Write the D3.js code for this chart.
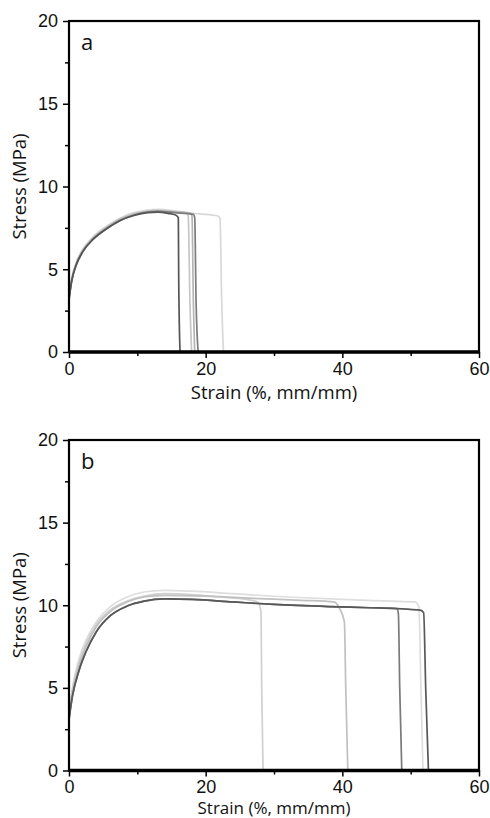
<!DOCTYPE html>
<html>
<head>
<meta charset="utf-8">
<script src="https://cdn.jsdelivr.net/npm/d3@7"></script>
<style>
  body { margin: 0; background: #fff; }
  svg { display: block; font-family: "Open Sans", sans-serif; }
  .tick text { font-size: 18px; fill: #111; }
  .tick line { stroke: #000; stroke-width: 1.5; }
</style>
</head>
<body>
<div id="chart"></div>
<script>
var strainTicks = [0, 20, 40, 60],
    strainMinor = [10, 30, 50],
    stressTicks = [0, 5, 10, 15, 20],
    stressMinor = [2.5, 7.5, 12.5, 17.5];

// panel a specimens, [strain %, stress MPa]
var a1 = [[0,3.2],[0.4,4.3],[1,5.2],[2,6.05],[3.5,6.8],[5.5,7.45],[7.5,7.95],[9.5,8.25],[11.5,8.42],[13,8.45],[14.5,8.38],[15.6,8.28],[16.0,8.12],[16.05,4.7],[16.25,0]];
var a2 = [[0,3.3],[0.4,4.4],[1,5.3],[2,6.15],[3.5,6.9],[5.5,7.55],[7.5,8.05],[9.5,8.35],[11.5,8.52],[13,8.56],[15,8.5],[17.2,8.4],[17.45,8.2],[17.7,3],[17.95,0]];
var a3 = [[0,3.25],[0.4,4.35],[1,5.25],[2,6.1],[3.5,6.85],[5.5,7.5],[7.5,8.0],[9.5,8.3],[11.5,8.48],[13,8.52],[15.5,8.45],[17.8,8.38],[18.0,8.2],[18.2,3],[18.4,0]];
var a4 = [[0,3.2],[0.4,4.3],[1,5.2],[2,6.05],[3.5,6.8],[5.5,7.45],[7.5,7.95],[9.5,8.28],[11.5,8.45],[13,8.5],[15.5,8.42],[18.2,8.32],[18.4,8.1],[18.6,3],[18.9,0]];
var a5 = [[0,3.35],[0.4,4.45],[1,5.35],[2,6.2],[3.5,6.95],[5.5,7.6],[7.5,8.1],[9.5,8.42],[11.5,8.58],[13,8.62],[16,8.5],[19,8.35],[21.8,8.22],[22.1,8.05],[22.35,3],[22.6,0]];

// panel b specimens
var b1 = [[0,3.3],[0.5,4.9],[1.5,6.6],[2.5,7.7],[4,8.85],[6,9.7],[8.5,10.25],[11,10.55],[14,10.7],[18,10.65],[22,10.5],[26,10.35],[27.6,10.2],[28.1,9.6],[28.2,5],[28.4,0]];
var b2 = [[0,3.2],[0.5,4.7],[1.5,6.4],[2.5,7.5],[4,8.7],[6,9.6],[8.5,10.2],[11,10.5],[14,10.6],[20,10.55],[28,10.4],[34,10.3],[38.8,10.2],[39.6,9.8],[40.3,9.0],[40.5,5],[40.8,0]];
var b3 = [[0,3.4],[0.5,5.0],[1.5,6.8],[2.5,7.9],[4,9.0],[6,9.9],[8.5,10.5],[11,10.8],[14,10.9],[18,10.85],[24,10.7],[32,10.5],[40,10.35],[47,10.25],[50.6,10.2],[51.2,9.9],[51.5,5],[51.8,0]];
var b4 = [[0,3.1],[0.5,4.5],[1.5,6.1],[2.5,7.2],[4,8.4],[6,9.35],[8.5,9.95],[11,10.25],[14,10.38],[18,10.35],[24,10.2],[30,10.05],[38,9.92],[44,9.85],[48.0,9.8],[48.2,9.5],[48.4,5],[48.7,0]];
var b5 = [[0,3.1],[0.5,4.5],[1.5,6.1],[2.5,7.2],[4,8.4],[6,9.35],[8.5,9.95],[11,10.25],[14,10.38],[18,10.35],[24,10.2],[30,10.05],[38,9.92],[44,9.85],[48,9.8],[51.4,9.7],[51.9,9.55],[52.2,5],[52.6,0]];

var seriesA = [a5, a2, a3, a4, a1],
    shadesA = ["#d8d8d8", "#c6c6c6", "#b4b4b4", "#7c7c7c", "#555555"];
var seriesB = [b3, b1, b2, b4, b5],
    shadesB = ["#dedede", "#d0d0d0", "#c0c0c0", "#7a7a7a", "#585858"];

var width = 490, height = 818;

var svg = d3.select("#chart").append("svg")
    .attr("width", width)
    .attr("height", height);

var x = d3.scaleLinear().domain([0, 60]).range([69, 479]);

drawPanel(seriesA, shadesA, "a", 21, 352, 18.5);
drawPanel(seriesB, shadesB, "b", 440, 770.5, 17);

function drawPanel(series, shades, label, top, bottom, titleSize) {
  var y = d3.scaleLinear().domain([0, 20]).range([bottom, top]);
  var g = svg.append("g");

  var line = d3.line()
      .x(function(d) { return x(d[0]); })
      .y(function(d) { return y(d[1]); })
      .curve(d3.curveMonotoneX);

  g.selectAll(".curve")
      .data(series)
    .enter().append("path")
      .attr("class", "curve")
      .attr("d", line)
      .attr("fill", "none")
      .attr("stroke", function(d, i) { return shades[i]; })
      .attr("stroke-width", 1.7);

  // minor ticks first, then major
  g.append("g")
      .attr("transform", "translate(" + x(0) + ",0)")
      .call(d3.axisLeft(y).tickValues(stressMinor).tickSize(4).tickFormat(""))
      .call(function(a) { a.select(".domain").remove(); });

  g.append("g")
      .attr("transform", "translate(" + x(0) + ",0)")
      .call(d3.axisLeft(y).tickValues(stressTicks).tickSize(6).tickPadding(5))
      .call(function(a) { a.select(".domain").remove(); });

  g.append("g")
      .attr("transform", "translate(0," + bottom + ")")
      .call(d3.axisBottom(x).tickValues(strainMinor).tickSize(4).tickFormat(""))
      .call(function(a) { a.select(".domain").remove(); });

  g.append("g")
      .attr("transform", "translate(0," + bottom + ")")
      .call(d3.axisBottom(x).tickValues(strainTicks).tickSize(6).tickPadding(4))
      .call(function(a) { a.select(".domain").remove(); });

  svg.selectAll(".tick text").attr("font-family", null).attr("font-size", null);

  // frame
  g.append("rect")
      .attr("x", x(0))
      .attr("y", top)
      .attr("width", x(60) - x(0))
      .attr("height", bottom - top)
      .attr("fill", "none")
      .attr("stroke", "#000")
      .attr("stroke-width", 2.2);

  g.append("line")
      .attr("x1", x(0)).attr("x2", x(60))
      .attr("y1", bottom).attr("y2", bottom)
      .attr("stroke", "#000")
      .attr("stroke-width", 3.5);

  g.append("text")
      .attr("x", x(0) + 12)
      .attr("y", top + 29)
      .attr("font-size", 22)
      .attr("fill", "#111")
      .text(label);

  g.append("text")
      .attr("text-anchor", "middle")
      .attr("x", (x(0) + x(60)) / 2)
      .attr("y", Math.min(bottom + 47, height - 4.5))
      .attr("font-size", titleSize)
      .attr("fill", "#111")
      .text("Strain (%, mm/mm)");

  g.append("text")
      .attr("text-anchor", "middle")
      .attr("transform", "translate(26," + (top + bottom) / 2 + ") rotate(-90)")
      .attr("font-size", 18.5)
      .attr("fill", "#111")
      .text("Stress (MPa)");
}
</script>
</body>
</html>
